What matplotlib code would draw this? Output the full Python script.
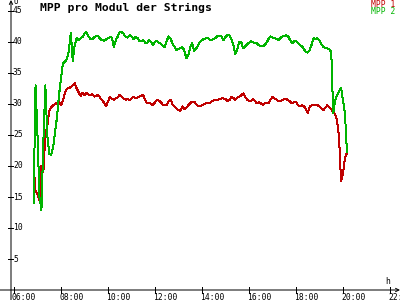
import pandas as pd
import matplotlib
matplotlib.use("Agg")
import matplotlib.pyplot as plt

# 5-Minuten-Werte, 06:50 bis 20:10
zeiten = pd.date_range("2000-01-01 06:50", "2000-01-01 20:10", freq="5min")

mpp1 = [  # rot
    20, 16, 15.5, 14.5, 20, 19, 25, 26.5, 28.8, 29.5, 29.8, 30, 30.2, 30.3,
    29.8, 30.6, 31.8, 32.4, 32.6, 32.7, 33.0, 33.4, 32.5, 31.9, 31.3, 31.8,
    31.4, 31.8, 31.5, 31.4, 31.6, 31.2, 31.3, 31.5, 31.0, 30.6, 30.2, 29.6,
    30.4, 31.2, 30.8, 30.7, 30.9, 31.1, 31.5, 31.2, 30.9, 30.7, 30.8, 30.6,
    30.9, 31.2, 30.9, 31.0, 31.2, 31.3, 31.5, 30.6, 30.1, 30.2, 30.0, 29.8,
    30.3, 30.7, 30.5, 30.3, 29.8, 29.8, 29.8, 30.5, 30.7, 29.9, 29.6, 29.3,
    29.0, 28.9, 29.6, 29.2, 29.4, 29.8, 30.1, 30.4, 30.4, 30.0, 29.6, 29.7,
    29.8, 30.0, 30.1, 30.1, 30.2, 30.4, 30.6, 30.7, 30.7, 30.8, 30.9, 30.9,
    30.8, 30.5, 30.6, 31.1, 31.0, 30.7, 31.0, 31.2, 31.4, 31.7, 31.2, 30.7,
    30.5, 30.5, 30.8, 30.5, 30.1, 30.3, 30.1, 29.9, 30.1, 30.1, 30.1, 30.7,
    31.2, 30.9, 30.7, 30.4, 30.5, 30.6, 30.8, 30.8, 30.6, 30.4, 30.1, 30.3,
    30.4, 29.8, 29.6, 29.8, 29.7, 29.2, 28.6, 29.6, 29.8, 29.8, 29.8, 29.8,
    29.6, 29.3, 29.0, 29.4, 29.8, 29.5, 29.2, 28.7, 28.3, 27.3, 24.5, 17.5,
    18.8, 21.3, 22.1,
]

mpp2 = [  # gruen
    14, 33, 25, 15, 12.9, 24, 33, 25, 22, 21.8, 23, 25.5, 28, 31.5,
    34, 36.6, 36.8, 37.2, 38.5, 41.5, 37, 39.5, 40.6, 40.3, 40.6, 40.8,
    41.4, 41.6, 40.9, 40.5, 40.4, 40.8, 41.0, 40.9, 40.5, 40.3, 40.2, 40.4,
    40.6, 40.8, 40.7, 39.2, 40.3, 40.9, 41.6, 41.6, 41.3, 40.8, 40.7, 41.1,
    40.9, 40.5, 40.8, 40.7, 40.1, 40.2, 40.3, 39.9, 39.9, 40.3, 40.0, 39.5,
    40.0, 40.2, 39.9, 39.7, 39.4, 39.2, 40.2, 40.9, 40.5, 39.7, 39.2, 38.7,
    38.9, 39.0, 39.2, 38.6, 37.4, 37.8, 39.2, 39.8, 38.6, 38.9, 39.5, 40.0,
    40.3, 40.5, 40.6, 40.6, 40.4, 40.3, 40.5, 40.7, 41.0, 41.0, 40.9, 40.3,
    40.8, 41.1, 41.1, 40.4, 39.5, 38.0, 38.8, 40.0, 40.0, 39.0, 39.3, 39.6,
    39.9, 40.1, 40.0, 39.8, 39.8, 39.5, 39.3, 39.3, 39.5, 39.9, 40.5, 40.9,
    40.7, 40.6, 40.5, 40.3, 40.6, 40.9, 41.0, 41.1, 40.9, 40.3, 39.8, 40.1,
    40.2, 39.8, 39.5, 39.3, 38.9, 38.4, 38.3, 38.7, 39.6, 40.6, 40.5, 40.6,
    40.2, 39.6, 39.2, 39.0, 39.0, 38.8, 38.4, 28.5, 30.6, 31.4, 32.0, 32.6,
    30.5, 28.5, 22.3,
]

y_ticks = [5, 10, 15, 20, 25, 30, 35, 40, 45]
x_ticks = [6, 8, 10, 12, 14, 16, 18, 20, 22]
x_labels = ["06:00", "08:00", "10:00", "12:00", "14:00", "16:00", "18:00", "20:00", "22:00"]

ROT = "#c00000"
GRUEN = "#00b400"
MONO = "DejaVu Sans Mono"

# Pixel-Geometrie der Vorlage (400x300)
W, H = 400, 300
X06 = 14        # Pixel von 06:00
PX_H = 23.5     # Pixel pro Stunde
Y0 = 290        # Pixel von 0 V
PX_V = 6.2      # Pixel pro Volt
LW = 0.72       # 1 Pixel bei 100 dpi

stunden = zeiten.hour + zeiten.minute / 60.0

fig = plt.figure(figsize=(4, 3), dpi=100)
ax = fig.add_axes([0, 0, 1, 1])
ax.set_xlim(6 - X06 / PX_H, 6 + (W - X06) / PX_H)
ax.set_ylim(-(H - Y0) / PX_V, Y0 / PX_V)
ax.axis("off")

def px2x(px):
    return 6 + (px - X06) / PX_H

def px2y(py):
    return (Y0 - py) / PX_V

ax.plot(stunden, mpp1, color=ROT, lw=LW, antialiased=False)
ax.plot(stunden, mpp2, color=GRUEN, lw=LW, antialiased=False)

# Achsen mit Pfeilen
arrow = dict(arrowstyle="->", lw=LW, color="black", shrinkA=0, shrinkB=0, mutation_scale=6)
ax.annotate("", xy=(px2x(11), px2y(0)), xytext=(px2x(11), px2y(300)), arrowprops=arrow)
ax.annotate("", xy=(px2x(400), 0), xytext=(px2x(0), 0), arrowprops=arrow)

for v in y_ticks:
    ax.plot([px2x(8), px2x(13)], [v, v], color="black", lw=LW, antialiased=False)
    ax.text(px2x(13), v, str(v), fontsize=5.8, family=MONO, va="center", ha="left")

for t, lab in zip(x_ticks, x_labels):
    ax.plot([t, t], [px2y(287), px2y(293)], color="black", lw=LW, antialiased=False)
    ax.text(t - 2 / PX_H, px2y(297), lab, fontsize=5.8, family=MONO, va="center", ha="left")

ax.text(px2x(14), px2y(2), "U", fontsize=5.5, family=MONO, va="center", ha="left")
ax.text(px2x(385), px2y(281.5), "h", fontsize=5.8, family=MONO, va="center", ha="left")

fig.text(40 / W, 1 - 7.5 / H, "MPP pro Modul der Strings", fontsize=8.2, fontweight="bold",
         family=MONO, va="center", ha="left")
fig.text(395 / W, 1 - 4.5 / H, "MPP 1", color=ROT, fontsize=5.8, family=MONO, va="center", ha="right")
fig.text(395 / W, 1 - 12 / H, "MPP 2", color=GRUEN, fontsize=5.8, family=MONO, va="center", ha="right")

fig.savefig("out.png", dpi=100, facecolor="white")
